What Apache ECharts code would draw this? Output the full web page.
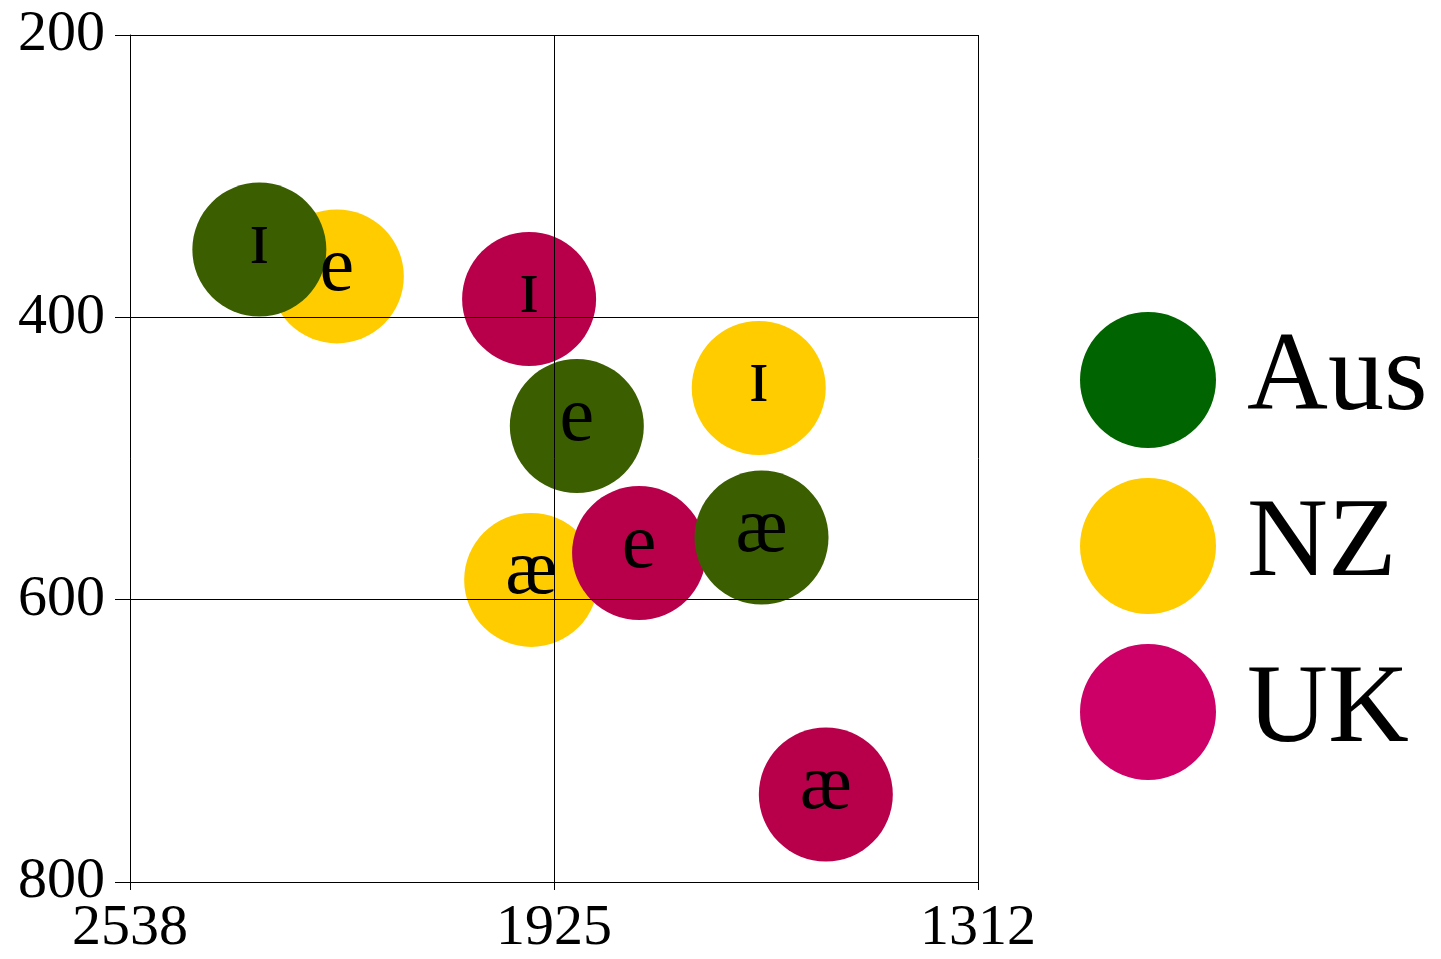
<!DOCTYPE html>
<html>
<head>
<meta charset="utf-8">
<script src="https://cdn.jsdelivr.net/npm/echarts@6/dist/echarts.min.js"></script>
<style>
  html, body { margin: 0; padding: 0; background: #fff; }
  #chart { width: 1441px; height: 959px; }
</style>
</head>
<body>
<div id="chart"></div>
<script>
var seriesNames = ['NZ', 'UK', 'Aus'];
var vowels = ['ɪ', 'e', 'æ'];
// F2 (x) and F1 (y) per vowel, order ɪ, e, æ
var f2Aus = [2351, 1892, 1625];
var f1Aus = [352, 477, 556];
var f2NZ = [1629, 2239, 1958];
var f1NZ = [450, 371, 586];
var f2UK = [1961, 1802, 1532];
var f1UK = [387, 567, 738];
var xTicks = [1312, 1925, 2538];

var markerColors = { Aus: '#3a5e00', NZ: '#ffcc00', UK: '#b8004a' };
var legendColors = { Aus: '#006400', NZ: '#ffcc00', UK: '#cc0066' };
var serif = '"Liberation Serif", "Times New Roman", serif';

function pts(f2, f1) {
  return f2.map(function (x, i) { return { value: [x, f1[i]], vowel: vowels[i] }; });
}
var dataByName = { Aus: pts(f2Aus, f1Aus), NZ: pts(f2NZ, f1NZ), UK: pts(f2UK, f1UK) };

var chart = echarts.init(document.getElementById('chart'));
chart.setOption({
  animation: false,
  grid: { left: 130, top: 35, right: 463, bottom: 77 },
  legend: {
    orient: 'vertical',
    left: 1080,
    top: 312,
    padding: 0,
    itemWidth: 136,
    itemHeight: 136,
    itemGap: 30,
    icon: 'circle',
    textStyle: { fontFamily: serif, fontSize: 112, color: '#000', padding: [12, 0, 0, 26] },
    data: ['Aus', 'NZ', 'UK'].map(function (n) {
      return { name: n, itemStyle: { color: legendColors[n] } };
    })
  },
  xAxis: {
    type: 'value',
    inverse: true,
    min: 1312,
    max: 2538,
    z: 5,
    axisLine: { show: true, onZero: false, lineStyle: { color: '#000', width: 1 } },
    axisTick: { show: true, length: 8, customValues: xTicks, lineStyle: { color: '#000' } },
    axisLabel: {
      customValues: xTicks,
      formatter: function (v) { return String(v); },
      fontFamily: serif, fontSize: 58, color: '#000', margin: 18
    },
    splitLine: { show: true, lineStyle: { color: '#000', width: 1 } }
  },
  yAxis: {
    type: 'value',
    inverse: true,
    min: 200,
    max: 800,
    interval: 200,
    z: 5,
    axisLine: { show: true, onZero: false, lineStyle: { color: '#000', width: 1 } },
    axisTick: { show: true, length: 15, lineStyle: { color: '#000' } },
    axisLabel: { fontFamily: serif, fontSize: 58, color: '#000', margin: 25 },
    splitLine: { show: true, lineStyle: { color: '#000', width: 1 } }
  },
  series: seriesNames.map(function (n) {
    return {
      name: n,
      type: 'scatter',
      symbol: 'circle',
      symbolSize: 134,
      itemStyle: { color: markerColors[n], opacity: 1 },
      label: {
        show: true,
        position: 'inside',
        offset: [0, -7],
        formatter: function (p) { return p.data.vowel; },
        fontFamily: serif,
        fontSize: 78,
        color: '#000'
      },
      emphasis: { disabled: true },
      data: dataByName[n]
    };
  })
});
</script>
</body>
</html>
